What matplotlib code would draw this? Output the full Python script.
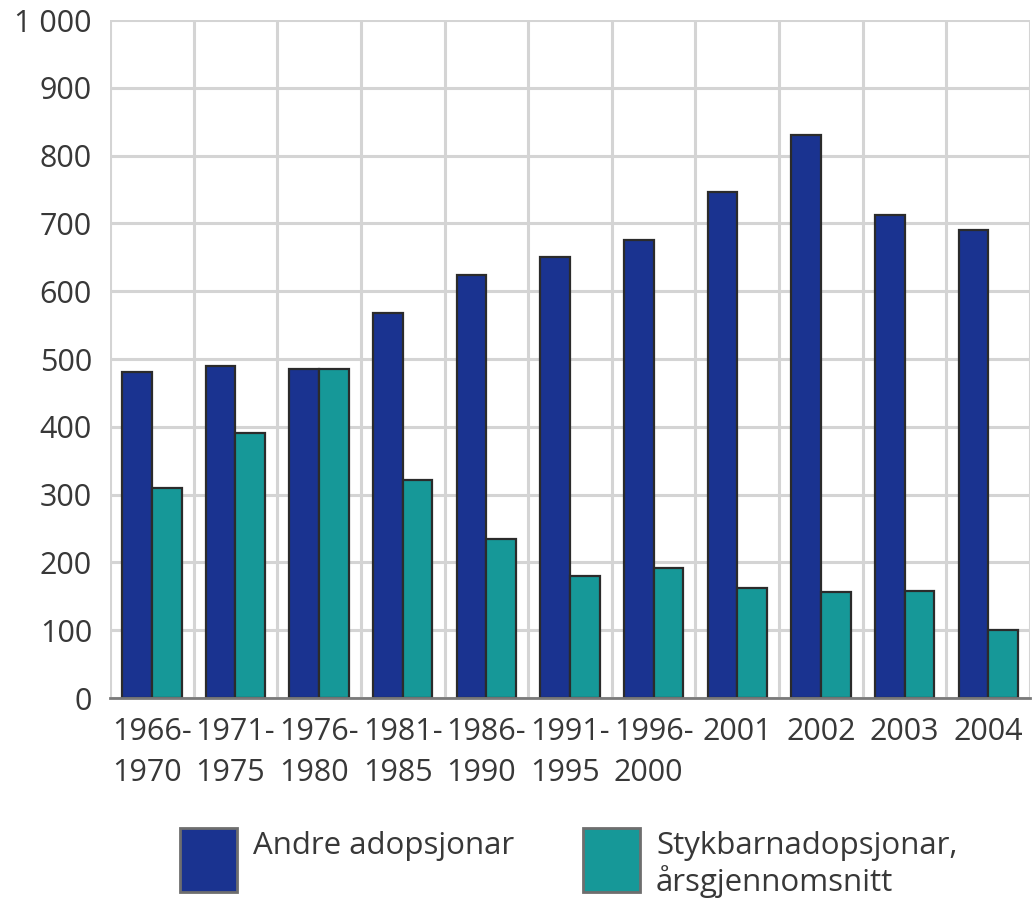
import matplotlib
matplotlib.use("Agg")
import matplotlib.pyplot as plt
import numpy as np
from matplotlib.patches import Rectangle

categories = ["1966-\n1970", "1971-\n1975", "1976-\n1980", "1981-\n1985", "1986-\n1990",
              "1991-\n1995", "1996-\n2000", "2001", "2002", "2003", "2004"]
andre = [481, 490, 486, 568, 624, 651, 675, 747, 831, 712, 690]
stykbarn = [310, 391, 486, 322, 234, 180, 192, 162, 156, 158, 100]
series_names = ["Andre adopsjonar", "Stykbarnadopsjonar,\nårsgjennomsnitt"]
yticks = [0, 100, 200, 300, 400, 500, 600, 700, 800, 900, 1000]
ytick_labels = ["0", "100", "200", "300", "400", "500", "600", "700", "800", "900", "1 000"]

blue = "#1a3390"
teal = "#169898"
edge = "#2b2b2b"
textc = "#383838"

plt.rcParams["font.family"] = ["Open Sans", "DejaVu Sans"]

fig = plt.figure(figsize=(10.32, 9.14), dpi=100)
ax = fig.add_axes([0.1066, 0.2363, 0.8915, 0.7417])

x = np.arange(len(categories))
w = 0.355
ax.bar(x - w / 2, andre, w, color=blue, edgecolor=edge, linewidth=1.6, zorder=3)
ax.bar(x + w / 2, stykbarn, w, color=teal, edgecolor=edge, linewidth=1.6, zorder=3)

ax.set_xlim(-0.5, len(categories) - 0.5)
ax.set_ylim(0, 1000)
ax.set_yticks(yticks)
ax.set_yticklabels(ytick_labels)
ax.set_xticks(x)
ax.set_xticklabels(categories, multialignment="left", linespacing=1.45)

for b in np.arange(-0.5, len(categories), 1.0):
    ax.axvline(b, color="#d4d4d4", linewidth=2.2, zorder=1)
for yv in yticks:
    ax.axhline(yv, color="#d4d4d4", linewidth=2.2, zorder=1)

for s in ["top", "right", "left"]:
    ax.spines[s].set_visible(False)
ax.spines["bottom"].set_color("#7a7a7a")
ax.spines["bottom"].set_linewidth(2)
ax.spines["bottom"].set_zorder(4)

ax.tick_params(axis="both", length=0, labelsize=22, colors=textc)
ax.tick_params(axis="y", pad=13)
ax.tick_params(axis="x", pad=14)

# legend
W, H = 1032.0, 914.0
def fx(px):
    return px / W
def fy(py):
    return 1 - py / H

for px0, col, name in [(180, blue, series_names[0]), (583, teal, series_names[1])]:
    r = Rectangle((fx(px0), fy(892)), 57 / W, 64 / H, transform=fig.transFigure,
                  facecolor=col, edgecolor="#6e6e6e", linewidth=2)
    fig.add_artist(r)
    fig.text(fx(px0 + 73), fy(831), name, ha="left", va="top", fontsize=22.5,
             color=textc, linespacing=1.15)

fig.savefig("out.png", dpi=100)
